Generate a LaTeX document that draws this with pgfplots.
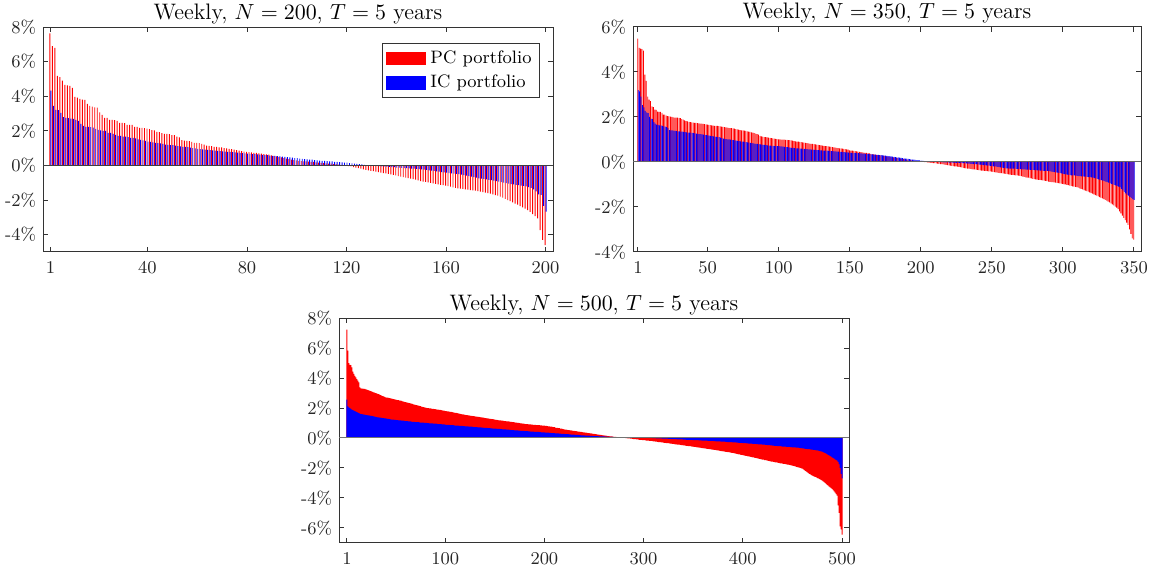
\documentclass[border=0pt]{standalone}
\usepackage{pgfplots}
\usepackage{pgfplotstable}
\pgfplotsset{compat=1.18}

% ---------- N = 200 ----------
\pgfplotstableread[row sep=\\]{
y\\
7.63\\ 6.90\\ 6.80\\ 5.17\\ 5.10\\ 4.90\\ 4.65\\ 4.63\\ 4.60\\ 4.48\\
3.96\\ 3.92\\ 3.85\\ 3.80\\ 3.79\\ 3.56\\ 3.44\\ 3.40\\ 3.35\\ 3.34\\
3.06\\ 2.92\\ 2.75\\ 2.75\\ 2.63\\ 2.63\\ 2.62\\ 2.58\\ 2.46\\ 2.46\\
2.45\\ 2.35\\ 2.35\\ 2.34\\ 2.23\\ 2.23\\ 2.17\\ 2.17\\ 2.15\\ 2.13\\
2.10\\ 2.04\\ 2.02\\ 1.94\\ 1.92\\ 1.87\\ 1.83\\ 1.83\\ 1.81\\ 1.75\\
1.75\\ 1.67\\ 1.62\\ 1.46\\ 1.43\\ 1.42\\ 1.40\\ 1.36\\ 1.31\\ 1.30\\
1.29\\ 1.25\\ 1.20\\ 1.14\\ 1.13\\ 1.12\\ 1.08\\ 1.07\\ 1.05\\ 1.04\\
1.00\\ 0.98\\ 0.96\\ 0.94\\ 0.92\\ 0.88\\ 0.86\\ 0.83\\ 0.80\\ 0.79\\
0.77\\ 0.75\\ 0.73\\ 0.72\\ 0.70\\ 0.68\\ 0.66\\ 0.64\\ 0.62\\ 0.58\\
0.55\\ 0.52\\ 0.49\\ 0.46\\ 0.43\\ 0.40\\ 0.37\\ 0.34\\ 0.31\\ 0.29\\
0.27\\ 0.25\\ 0.24\\ 0.23\\ 0.22\\ 0.21\\ 0.20\\ 0.18\\ 0.17\\ 0.15\\
0.14\\ 0.12\\ 0.11\\ 0.10\\ 0.08\\ 0.07\\ 0.05\\ 0.03\\ 0.01\\ -0.01\\
-0.04\\ -0.06\\ -0.09\\ -0.12\\ -0.16\\ -0.19\\ -0.22\\ -0.25\\ -0.28\\ -0.31\\
-0.33\\ -0.36\\ -0.39\\ -0.41\\ -0.44\\ -0.46\\ -0.49\\ -0.52\\ -0.55\\ -0.58\\
-0.61\\ -0.64\\ -0.67\\ -0.70\\ -0.73\\ -0.76\\ -0.79\\ -0.82\\ -0.86\\ -0.90\\
-0.93\\ -0.95\\ -0.98\\ -1.00\\ -1.03\\ -1.06\\ -1.09\\ -1.12\\ -1.14\\ -1.17\\
-1.20\\ -1.23\\ -1.26\\ -1.29\\ -1.32\\ -1.34\\ -1.36\\ -1.38\\ -1.40\\ -1.42\\
-1.44\\ -1.46\\ -1.49\\ -1.51\\ -1.54\\ -1.57\\ -1.60\\ -1.63\\ -1.67\\ -1.71\\
-1.75\\ -1.80\\ -1.86\\ -1.93\\ -2.00\\ -2.06\\ -2.13\\ -2.20\\ -2.27\\ -2.35\\
-2.42\\ -2.50\\ -2.58\\ -2.68\\ -2.81\\ -2.93\\ -3.06\\ -3.73\\ -4.30\\ -4.60\\
}\pcA
\pgfplotstableread[row sep=\\]{
y\\
4.33\\ 3.44\\ 3.21\\ 3.20\\ 3.04\\ 2.79\\ 2.75\\ 2.74\\ 2.71\\ 2.69\\
2.63\\ 2.58\\ 2.40\\ 2.29\\ 2.23\\ 2.23\\ 2.22\\ 2.19\\ 2.12\\ 2.06\\
2.02\\ 2.00\\ 2.00\\ 1.88\\ 1.88\\ 1.83\\ 1.77\\ 1.71\\ 1.71\\ 1.67\\
1.67\\ 1.63\\ 1.60\\ 1.60\\ 1.56\\ 1.50\\ 1.48\\ 1.45\\ 1.42\\ 1.38\\
1.36\\ 1.33\\ 1.31\\ 1.29\\ 1.27\\ 1.24\\ 1.21\\ 1.19\\ 1.18\\ 1.17\\
1.15\\ 1.12\\ 1.10\\ 1.08\\ 1.07\\ 1.06\\ 1.03\\ 1.00\\ 0.98\\ 0.96\\
0.94\\ 0.93\\ 0.92\\ 0.90\\ 0.88\\ 0.87\\ 0.86\\ 0.84\\ 0.83\\ 0.82\\
0.80\\ 0.79\\ 0.78\\ 0.77\\ 0.75\\ 0.74\\ 0.72\\ 0.71\\ 0.70\\ 0.69\\
0.68\\ 0.66\\ 0.65\\ 0.64\\ 0.62\\ 0.61\\ 0.60\\ 0.59\\ 0.57\\ 0.56\\
0.55\\ 0.54\\ 0.52\\ 0.51\\ 0.50\\ 0.48\\ 0.47\\ 0.45\\ 0.43\\ 0.42\\
0.40\\ 0.38\\ 0.36\\ 0.35\\ 0.34\\ 0.33\\ 0.31\\ 0.30\\ 0.28\\ 0.27\\
0.26\\ 0.25\\ 0.24\\ 0.23\\ 0.21\\ 0.20\\ 0.19\\ 0.18\\ 0.17\\ 0.16\\
0.14\\ 0.12\\ 0.10\\ 0.09\\ 0.08\\ 0.06\\ 0.04\\ 0.02\\ 0.01\\ -0.01\\
-0.02\\ -0.03\\ -0.04\\ -0.05\\ -0.06\\ -0.07\\ -0.08\\ -0.09\\ -0.10\\ -0.12\\
-0.13\\ -0.14\\ -0.15\\ -0.16\\ -0.17\\ -0.18\\ -0.19\\ -0.20\\ -0.21\\ -0.22\\
-0.24\\ -0.26\\ -0.28\\ -0.30\\ -0.32\\ -0.34\\ -0.36\\ -0.38\\ -0.40\\ -0.42\\
-0.44\\ -0.46\\ -0.47\\ -0.49\\ -0.50\\ -0.53\\ -0.56\\ -0.59\\ -0.62\\ -0.65\\
-0.68\\ -0.71\\ -0.74\\ -0.76\\ -0.78\\ -0.80\\ -0.83\\ -0.85\\ -0.87\\ -0.90\\
-0.93\\ -0.96\\ -0.99\\ -1.02\\ -1.05\\ -1.08\\ -1.10\\ -1.12\\ -1.14\\ -1.16\\
-1.18\\ -1.21\\ -1.25\\ -1.30\\ -1.38\\ -1.50\\ -1.67\\ -1.70\\ -2.33\\ -2.67\\
}\icA

% ---------- N = 350 ----------
\pgfplotstableread[row sep=\\]{
y\\
5.48\\ 5.07\\ 5.04\\ 5.02\\ 4.95\\ 3.88\\ 3.61\\ 2.90\\ 2.77\\ 2.71\\
2.47\\ 2.44\\ 2.33\\ 2.32\\ 2.24\\ 2.23\\ 2.23\\ 2.18\\ 2.10\\ 2.10\\
2.06\\ 2.04\\ 2.03\\ 2.02\\ 2.00\\ 1.98\\ 1.97\\ 1.97\\ 1.97\\ 1.96\\
1.95\\ 1.91\\ 1.88\\ 1.85\\ 1.82\\ 1.81\\ 1.78\\ 1.77\\ 1.76\\ 1.75\\
1.74\\ 1.74\\ 1.73\\ 1.72\\ 1.71\\ 1.70\\ 1.69\\ 1.68\\ 1.67\\ 1.66\\
1.65\\ 1.64\\ 1.63\\ 1.62\\ 1.61\\ 1.60\\ 1.60\\ 1.59\\ 1.58\\ 1.57\\
1.56\\ 1.55\\ 1.54\\ 1.53\\ 1.52\\ 1.51\\ 1.50\\ 1.49\\ 1.48\\ 1.46\\
1.45\\ 1.44\\ 1.42\\ 1.41\\ 1.40\\ 1.39\\ 1.38\\ 1.36\\ 1.35\\ 1.34\\
1.32\\ 1.30\\ 1.28\\ 1.26\\ 1.24\\ 1.22\\ 1.16\\ 1.14\\ 1.13\\ 1.11\\
1.10\\ 1.09\\ 1.08\\ 1.07\\ 1.06\\ 1.05\\ 1.04\\ 1.03\\ 1.02\\ 1.01\\
1.00\\ 0.99\\ 0.99\\ 0.99\\ 0.98\\ 0.98\\ 0.97\\ 0.97\\ 0.96\\ 0.95\\
0.93\\ 0.92\\ 0.91\\ 0.90\\ 0.89\\ 0.88\\ 0.87\\ 0.86\\ 0.85\\ 0.84\\
0.83\\ 0.82\\ 0.81\\ 0.80\\ 0.79\\ 0.78\\ 0.77\\ 0.76\\ 0.75\\ 0.74\\
0.73\\ 0.72\\ 0.71\\ 0.70\\ 0.69\\ 0.68\\ 0.67\\ 0.66\\ 0.65\\ 0.64\\
0.63\\ 0.62\\ 0.61\\ 0.60\\ 0.59\\ 0.58\\ 0.57\\ 0.56\\ 0.55\\ 0.52\\
0.51\\ 0.50\\ 0.49\\ 0.48\\ 0.47\\ 0.46\\ 0.45\\ 0.44\\ 0.43\\ 0.42\\
0.41\\ 0.40\\ 0.39\\ 0.38\\ 0.36\\ 0.35\\ 0.34\\ 0.33\\ 0.32\\ 0.31\\
0.30\\ 0.29\\ 0.28\\ 0.27\\ 0.26\\ 0.25\\ 0.24\\ 0.23\\ 0.22\\ 0.21\\
0.20\\ 0.19\\ 0.18\\ 0.17\\ 0.16\\ 0.15\\ 0.14\\ 0.13\\ 0.12\\ 0.11\\
0.10\\ 0.09\\ 0.08\\ 0.07\\ 0.06\\ 0.05\\ 0.05\\ 0.04\\ 0.03\\ 0.02\\
0.01\\ 0.00\\ -0.01\\ -0.01\\ -0.02\\ -0.03\\ -0.03\\ -0.04\\ -0.05\\ -0.05\\
-0.06\\ -0.07\\ -0.08\\ -0.09\\ -0.10\\ -0.11\\ -0.12\\ -0.13\\ -0.14\\ -0.15\\
-0.16\\ -0.17\\ -0.18\\ -0.19\\ -0.20\\ -0.21\\ -0.22\\ -0.23\\ -0.24\\ -0.26\\
-0.27\\ -0.28\\ -0.29\\ -0.30\\ -0.31\\ -0.32\\ -0.33\\ -0.33\\ -0.34\\ -0.35\\
-0.36\\ -0.37\\ -0.38\\ -0.38\\ -0.39\\ -0.40\\ -0.41\\ -0.42\\ -0.42\\ -0.43\\
-0.44\\ -0.45\\ -0.46\\ -0.47\\ -0.48\\ -0.49\\ -0.50\\ -0.51\\ -0.52\\ -0.53\\
-0.54\\ -0.55\\ -0.56\\ -0.57\\ -0.57\\ -0.58\\ -0.59\\ -0.60\\ -0.61\\ -0.62\\
-0.63\\ -0.65\\ -0.66\\ -0.68\\ -0.69\\ -0.70\\ -0.72\\ -0.73\\ -0.75\\ -0.76\\
-0.77\\ -0.78\\ -0.79\\ -0.80\\ -0.81\\ -0.82\\ -0.83\\ -0.84\\ -0.85\\ -0.87\\
-0.88\\ -0.89\\ -0.90\\ -0.91\\ -0.92\\ -0.93\\ -0.94\\ -0.95\\ -0.96\\ -0.97\\
-0.99\\ -1.00\\ -1.02\\ -1.03\\ -1.05\\ -1.06\\ -1.08\\ -1.09\\ -1.11\\ -1.12\\
-1.14\\ -1.17\\ -1.19\\ -1.22\\ -1.25\\ -1.27\\ -1.30\\ -1.32\\ -1.35\\ -1.38\\
-1.41\\ -1.44\\ -1.47\\ -1.50\\ -1.53\\ -1.56\\ -1.59\\ -1.62\\ -1.65\\ -1.68\\
-1.72\\ -1.76\\ -1.80\\ -1.84\\ -1.88\\ -1.93\\ -1.98\\ -2.03\\ -2.09\\ -2.19\\
-2.28\\ -2.38\\ -2.48\\ -2.58\\ -2.70\\ -2.80\\ -3.00\\ -3.20\\ -3.40\\ -3.45\\
}\pcB
\pgfplotstableread[row sep=\\]{
y\\
3.19\\ 3.14\\ 2.90\\ 2.53\\ 2.43\\ 2.27\\ 2.20\\ 2.17\\ 2.00\\ 1.93\\
1.90\\ 1.77\\ 1.71\\ 1.66\\ 1.65\\ 1.63\\ 1.63\\ 1.60\\ 1.58\\ 1.57\\
1.55\\ 1.50\\ 1.42\\ 1.41\\ 1.40\\ 1.39\\ 1.38\\ 1.37\\ 1.36\\ 1.36\\
1.35\\ 1.35\\ 1.34\\ 1.33\\ 1.32\\ 1.31\\ 1.30\\ 1.30\\ 1.29\\ 1.28\\
1.27\\ 1.26\\ 1.25\\ 1.24\\ 1.24\\ 1.23\\ 1.22\\ 1.20\\ 1.19\\ 1.18\\
1.17\\ 1.16\\ 1.15\\ 1.14\\ 1.13\\ 1.12\\ 1.11\\ 1.10\\ 1.08\\ 1.06\\
1.04\\ 1.03\\ 1.02\\ 1.01\\ 1.00\\ 0.99\\ 0.98\\ 0.97\\ 0.96\\ 0.95\\
0.94\\ 0.93\\ 0.92\\ 0.91\\ 0.90\\ 0.89\\ 0.88\\ 0.87\\ 0.86\\ 0.85\\
0.84\\ 0.83\\ 0.82\\ 0.81\\ 0.80\\ 0.79\\ 0.78\\ 0.77\\ 0.76\\ 0.76\\
0.75\\ 0.74\\ 0.73\\ 0.73\\ 0.72\\ 0.72\\ 0.71\\ 0.71\\ 0.70\\ 0.70\\
0.69\\ 0.69\\ 0.68\\ 0.67\\ 0.66\\ 0.66\\ 0.65\\ 0.64\\ 0.63\\ 0.63\\
0.62\\ 0.61\\ 0.60\\ 0.60\\ 0.59\\ 0.59\\ 0.58\\ 0.58\\ 0.57\\ 0.57\\
0.56\\ 0.56\\ 0.55\\ 0.55\\ 0.54\\ 0.54\\ 0.53\\ 0.53\\ 0.52\\ 0.52\\
0.51\\ 0.51\\ 0.50\\ 0.50\\ 0.49\\ 0.49\\ 0.48\\ 0.48\\ 0.47\\ 0.47\\
0.46\\ 0.46\\ 0.45\\ 0.45\\ 0.44\\ 0.44\\ 0.43\\ 0.43\\ 0.42\\ 0.42\\
0.41\\ 0.41\\ 0.40\\ 0.40\\ 0.39\\ 0.39\\ 0.38\\ 0.38\\ 0.37\\ 0.37\\
0.36\\ 0.36\\ 0.35\\ 0.35\\ 0.34\\ 0.34\\ 0.33\\ 0.33\\ 0.32\\ 0.32\\
0.31\\ 0.30\\ 0.29\\ 0.29\\ 0.28\\ 0.27\\ 0.26\\ 0.26\\ 0.25\\ 0.24\\
0.23\\ 0.22\\ 0.21\\ 0.20\\ 0.19\\ 0.18\\ 0.17\\ 0.16\\ 0.15\\ 0.15\\
0.14\\ 0.13\\ 0.12\\ 0.11\\ 0.10\\ 0.09\\ 0.08\\ 0.08\\ 0.07\\ 0.06\\
0.05\\ 0.05\\ 0.04\\ 0.04\\ 0.03\\ 0.03\\ 0.02\\ 0.02\\ 0.01\\ 0.01\\
0.00\\ 0.00\\ -0.01\\ -0.01\\ -0.01\\ -0.02\\ -0.02\\ -0.02\\ -0.02\\ -0.03\\
-0.03\\ -0.03\\ -0.03\\ -0.04\\ -0.04\\ -0.04\\ -0.04\\ -0.05\\ -0.05\\ -0.05\\
-0.06\\ -0.06\\ -0.07\\ -0.07\\ -0.08\\ -0.08\\ -0.09\\ -0.09\\ -0.10\\ -0.11\\
-0.12\\ -0.12\\ -0.13\\ -0.14\\ -0.14\\ -0.15\\ -0.16\\ -0.16\\ -0.17\\ -0.18\\
-0.19\\ -0.20\\ -0.21\\ -0.22\\ -0.23\\ -0.24\\ -0.25\\ -0.26\\ -0.27\\ -0.28\\
-0.28\\ -0.29\\ -0.29\\ -0.30\\ -0.30\\ -0.30\\ -0.31\\ -0.31\\ -0.32\\ -0.32\\
-0.33\\ -0.33\\ -0.33\\ -0.34\\ -0.34\\ -0.34\\ -0.35\\ -0.35\\ -0.35\\ -0.36\\
-0.36\\ -0.37\\ -0.37\\ -0.38\\ -0.38\\ -0.39\\ -0.39\\ -0.40\\ -0.40\\ -0.41\\
-0.42\\ -0.43\\ -0.44\\ -0.45\\ -0.46\\ -0.47\\ -0.48\\ -0.50\\ -0.51\\ -0.53\\
-0.54\\ -0.55\\ -0.56\\ -0.57\\ -0.58\\ -0.59\\ -0.60\\ -0.60\\ -0.61\\ -0.62\\
-0.63\\ -0.63\\ -0.64\\ -0.64\\ -0.65\\ -0.65\\ -0.66\\ -0.67\\ -0.67\\ -0.68\\
-0.70\\ -0.72\\ -0.73\\ -0.75\\ -0.77\\ -0.79\\ -0.81\\ -0.83\\ -0.85\\ -0.87\\
-0.89\\ -0.92\\ -0.94\\ -0.97\\ -0.99\\ -1.02\\ -1.04\\ -1.07\\ -1.09\\ -1.12\\
-1.19\\ -1.26\\ -1.33\\ -1.40\\ -1.46\\ -1.50\\ -1.55\\ -1.60\\ -1.65\\ -1.68\\
}\icB

% ---------- N = 500 ----------
\pgfplotstableread[row sep=\\]{
y\\
7.22\\ 5.82\\ 5.00\\ 4.88\\ 4.86\\ 4.71\\ 4.42\\ 4.27\\ 4.15\\ 4.04\\
3.93\\ 3.82\\ 3.71\\ 3.38\\ 3.31\\ 3.30\\ 3.29\\ 3.28\\ 3.27\\ 3.25\\
3.22\\ 3.20\\ 3.18\\ 3.15\\ 3.12\\ 3.10\\ 3.07\\ 3.05\\ 3.02\\ 3.00\\
2.97\\ 2.94\\ 2.92\\ 2.89\\ 2.86\\ 2.83\\ 2.80\\ 2.77\\ 2.74\\ 2.71\\
2.70\\ 2.69\\ 2.67\\ 2.66\\ 2.64\\ 2.62\\ 2.61\\ 2.59\\ 2.58\\ 2.56\\
2.55\\ 2.53\\ 2.52\\ 2.50\\ 2.49\\ 2.47\\ 2.45\\ 2.43\\ 2.41\\ 2.39\\
2.38\\ 2.36\\ 2.35\\ 2.33\\ 2.31\\ 2.29\\ 2.27\\ 2.25\\ 2.23\\ 2.21\\
2.19\\ 2.17\\ 2.16\\ 2.14\\ 2.12\\ 2.10\\ 2.08\\ 2.06\\ 2.04\\ 2.02\\
2.01\\ 2.00\\ 1.99\\ 1.98\\ 1.97\\ 1.96\\ 1.95\\ 1.94\\ 1.93\\ 1.92\\
1.91\\ 1.90\\ 1.89\\ 1.88\\ 1.87\\ 1.86\\ 1.85\\ 1.83\\ 1.82\\ 1.80\\
1.79\\ 1.78\\ 1.77\\ 1.76\\ 1.75\\ 1.74\\ 1.72\\ 1.71\\ 1.69\\ 1.68\\
1.67\\ 1.66\\ 1.64\\ 1.63\\ 1.61\\ 1.60\\ 1.58\\ 1.57\\ 1.55\\ 1.54\\
1.53\\ 1.52\\ 1.51\\ 1.50\\ 1.49\\ 1.48\\ 1.47\\ 1.46\\ 1.45\\ 1.44\\
1.43\\ 1.42\\ 1.41\\ 1.40\\ 1.39\\ 1.38\\ 1.37\\ 1.36\\ 1.35\\ 1.33\\
1.32\\ 1.31\\ 1.30\\ 1.29\\ 1.28\\ 1.27\\ 1.26\\ 1.25\\ 1.24\\ 1.22\\
1.21\\ 1.20\\ 1.19\\ 1.18\\ 1.17\\ 1.17\\ 1.16\\ 1.15\\ 1.14\\ 1.13\\
1.12\\ 1.11\\ 1.10\\ 1.10\\ 1.09\\ 1.08\\ 1.07\\ 1.06\\ 1.05\\ 1.04\\
1.03\\ 1.02\\ 1.01\\ 1.00\\ 0.99\\ 0.98\\ 0.97\\ 0.96\\ 0.95\\ 0.94\\
0.93\\ 0.93\\ 0.92\\ 0.91\\ 0.91\\ 0.90\\ 0.89\\ 0.89\\ 0.88\\ 0.87\\
0.87\\ 0.86\\ 0.86\\ 0.85\\ 0.85\\ 0.84\\ 0.84\\ 0.83\\ 0.83\\ 0.82\\
0.81\\ 0.80\\ 0.79\\ 0.78\\ 0.77\\ 0.76\\ 0.75\\ 0.74\\ 0.73\\ 0.72\\
0.69\\ 0.68\\ 0.67\\ 0.66\\ 0.65\\ 0.63\\ 0.62\\ 0.60\\ 0.59\\ 0.57\\
0.56\\ 0.55\\ 0.54\\ 0.53\\ 0.52\\ 0.51\\ 0.50\\ 0.49\\ 0.48\\ 0.47\\
0.46\\ 0.45\\ 0.44\\ 0.43\\ 0.42\\ 0.41\\ 0.40\\ 0.39\\ 0.38\\ 0.37\\
0.36\\ 0.35\\ 0.34\\ 0.33\\ 0.32\\ 0.31\\ 0.30\\ 0.29\\ 0.28\\ 0.27\\
0.26\\ 0.25\\ 0.24\\ 0.23\\ 0.22\\ 0.21\\ 0.20\\ 0.19\\ 0.18\\ 0.17\\
0.16\\ 0.15\\ 0.14\\ 0.13\\ 0.12\\ 0.11\\ 0.10\\ 0.10\\ 0.09\\ 0.08\\
0.07\\ 0.07\\ 0.06\\ 0.05\\ 0.05\\ 0.04\\ 0.03\\ 0.03\\ 0.02\\ 0.01\\
0.00\\ -0.01\\ -0.01\\ -0.02\\ -0.03\\ -0.03\\ -0.04\\ -0.05\\ -0.06\\ -0.07\\
-0.08\\ -0.08\\ -0.09\\ -0.10\\ -0.11\\ -0.12\\ -0.12\\ -0.13\\ -0.14\\ -0.15\\
-0.15\\ -0.16\\ -0.17\\ -0.17\\ -0.18\\ -0.19\\ -0.19\\ -0.20\\ -0.21\\ -0.22\\
-0.23\\ -0.24\\ -0.25\\ -0.26\\ -0.27\\ -0.27\\ -0.28\\ -0.29\\ -0.30\\ -0.31\\
-0.32\\ -0.33\\ -0.34\\ -0.35\\ -0.35\\ -0.36\\ -0.37\\ -0.38\\ -0.39\\ -0.40\\
-0.41\\ -0.42\\ -0.43\\ -0.44\\ -0.45\\ -0.45\\ -0.46\\ -0.47\\ -0.48\\ -0.49\\
-0.50\\ -0.51\\ -0.52\\ -0.53\\ -0.54\\ -0.54\\ -0.55\\ -0.56\\ -0.57\\ -0.58\\
-0.59\\ -0.60\\ -0.61\\ -0.62\\ -0.63\\ -0.64\\ -0.65\\ -0.66\\ -0.67\\ -0.68\\
-0.69\\ -0.70\\ -0.71\\ -0.72\\ -0.73\\ -0.74\\ -0.75\\ -0.76\\ -0.77\\ -0.78\\
-0.79\\ -0.80\\ -0.81\\ -0.82\\ -0.83\\ -0.85\\ -0.86\\ -0.87\\ -0.88\\ -0.89\\
-0.90\\ -0.91\\ -0.92\\ -0.93\\ -0.94\\ -0.95\\ -0.96\\ -0.97\\ -0.99\\ -1.00\\
-1.01\\ -1.03\\ -1.04\\ -1.06\\ -1.07\\ -1.09\\ -1.10\\ -1.12\\ -1.13\\ -1.15\\
-1.16\\ -1.17\\ -1.19\\ -1.20\\ -1.22\\ -1.23\\ -1.25\\ -1.26\\ -1.28\\ -1.29\\
-1.30\\ -1.32\\ -1.33\\ -1.35\\ -1.36\\ -1.38\\ -1.39\\ -1.41\\ -1.42\\ -1.44\\
-1.45\\ -1.47\\ -1.48\\ -1.50\\ -1.51\\ -1.53\\ -1.54\\ -1.56\\ -1.57\\ -1.58\\
-1.59\\ -1.61\\ -1.62\\ -1.63\\ -1.65\\ -1.66\\ -1.67\\ -1.69\\ -1.70\\ -1.71\\
-1.72\\ -1.73\\ -1.75\\ -1.76\\ -1.77\\ -1.78\\ -1.79\\ -1.81\\ -1.82\\ -1.84\\
-1.86\\ -1.88\\ -1.90\\ -1.92\\ -1.94\\ -1.96\\ -1.98\\ -2.00\\ -2.02\\ -2.05\\
-2.10\\ -2.15\\ -2.20\\ -2.25\\ -2.30\\ -2.35\\ -2.39\\ -2.43\\ -2.47\\ -2.51\\
-2.54\\ -2.57\\ -2.60\\ -2.63\\ -2.67\\ -2.70\\ -2.73\\ -2.76\\ -2.80\\ -2.84\\
-2.89\\ -2.94\\ -3.00\\ -3.06\\ -3.12\\ -3.18\\ -3.24\\ -3.29\\ -3.34\\ -3.40\\
-3.48\\ -3.56\\ -3.64\\ -3.74\\ -3.84\\ -4.50\\ -5.00\\ -5.90\\ -6.10\\ -6.45\\
}\pcC
\pgfplotstableread[row sep=\\]{
y\\
2.56\\ 2.11\\ 2.04\\ 2.00\\ 1.94\\ 1.89\\ 1.86\\ 1.83\\ 1.80\\ 1.76\\
1.73\\ 1.70\\ 1.66\\ 1.63\\ 1.60\\ 1.59\\ 1.58\\ 1.56\\ 1.55\\ 1.53\\
1.52\\ 1.51\\ 1.50\\ 1.49\\ 1.48\\ 1.47\\ 1.45\\ 1.44\\ 1.42\\ 1.40\\
1.39\\ 1.38\\ 1.37\\ 1.36\\ 1.35\\ 1.34\\ 1.33\\ 1.32\\ 1.31\\ 1.30\\
1.29\\ 1.28\\ 1.27\\ 1.25\\ 1.24\\ 1.23\\ 1.22\\ 1.22\\ 1.21\\ 1.20\\
1.19\\ 1.19\\ 1.18\\ 1.17\\ 1.17\\ 1.16\\ 1.15\\ 1.15\\ 1.14\\ 1.13\\
1.12\\ 1.12\\ 1.11\\ 1.10\\ 1.10\\ 1.09\\ 1.08\\ 1.08\\ 1.07\\ 1.06\\
1.06\\ 1.05\\ 1.05\\ 1.04\\ 1.03\\ 1.03\\ 1.02\\ 1.02\\ 1.01\\ 1.00\\
1.00\\ 0.99\\ 0.99\\ 0.98\\ 0.98\\ 0.97\\ 0.97\\ 0.96\\ 0.96\\ 0.95\\
0.95\\ 0.94\\ 0.93\\ 0.93\\ 0.92\\ 0.92\\ 0.91\\ 0.90\\ 0.90\\ 0.89\\
0.88\\ 0.88\\ 0.87\\ 0.87\\ 0.86\\ 0.86\\ 0.85\\ 0.85\\ 0.84\\ 0.83\\
0.83\\ 0.82\\ 0.82\\ 0.81\\ 0.81\\ 0.80\\ 0.80\\ 0.79\\ 0.79\\ 0.78\\
0.78\\ 0.77\\ 0.77\\ 0.76\\ 0.76\\ 0.75\\ 0.75\\ 0.74\\ 0.73\\ 0.73\\
0.72\\ 0.72\\ 0.71\\ 0.71\\ 0.70\\ 0.70\\ 0.69\\ 0.69\\ 0.68\\ 0.68\\
0.67\\ 0.67\\ 0.66\\ 0.66\\ 0.65\\ 0.64\\ 0.64\\ 0.63\\ 0.63\\ 0.62\\
0.62\\ 0.61\\ 0.61\\ 0.60\\ 0.60\\ 0.59\\ 0.59\\ 0.58\\ 0.58\\ 0.57\\
0.57\\ 0.56\\ 0.56\\ 0.55\\ 0.54\\ 0.54\\ 0.53\\ 0.52\\ 0.52\\ 0.51\\
0.51\\ 0.50\\ 0.50\\ 0.49\\ 0.49\\ 0.48\\ 0.48\\ 0.47\\ 0.47\\ 0.46\\
0.46\\ 0.45\\ 0.45\\ 0.44\\ 0.44\\ 0.43\\ 0.43\\ 0.42\\ 0.42\\ 0.41\\
0.41\\ 0.40\\ 0.40\\ 0.40\\ 0.39\\ 0.39\\ 0.38\\ 0.38\\ 0.37\\ 0.37\\
0.36\\ 0.36\\ 0.35\\ 0.35\\ 0.34\\ 0.34\\ 0.33\\ 0.33\\ 0.32\\ 0.32\\
0.31\\ 0.31\\ 0.30\\ 0.30\\ 0.29\\ 0.29\\ 0.28\\ 0.28\\ 0.27\\ 0.27\\
0.26\\ 0.26\\ 0.25\\ 0.25\\ 0.24\\ 0.24\\ 0.23\\ 0.23\\ 0.22\\ 0.22\\
0.21\\ 0.21\\ 0.20\\ 0.20\\ 0.19\\ 0.19\\ 0.18\\ 0.18\\ 0.17\\ 0.17\\
0.16\\ 0.16\\ 0.15\\ 0.15\\ 0.15\\ 0.14\\ 0.14\\ 0.14\\ 0.13\\ 0.13\\
0.13\\ 0.12\\ 0.12\\ 0.12\\ 0.11\\ 0.11\\ 0.11\\ 0.10\\ 0.10\\ 0.10\\
0.09\\ 0.09\\ 0.09\\ 0.08\\ 0.08\\ 0.08\\ 0.07\\ 0.07\\ 0.07\\ 0.06\\
0.06\\ 0.06\\ 0.05\\ 0.05\\ 0.05\\ 0.05\\ 0.04\\ 0.04\\ 0.04\\ 0.04\\
0.03\\ 0.03\\ 0.03\\ 0.03\\ 0.03\\ 0.02\\ 0.02\\ 0.02\\ 0.02\\ 0.02\\
0.02\\ 0.02\\ 0.01\\ 0.01\\ 0.01\\ 0.01\\ 0.01\\ 0.01\\ 0.01\\ 0.01\\
0.00\\ 0.00\\ 0.00\\ 0.00\\ 0.00\\ 0.00\\ 0.00\\ 0.00\\ -0.01\\ -0.01\\
-0.01\\ -0.01\\ -0.02\\ -0.02\\ -0.02\\ -0.03\\ -0.03\\ -0.03\\ -0.04\\ -0.04\\
-0.04\\ -0.05\\ -0.05\\ -0.05\\ -0.06\\ -0.06\\ -0.06\\ -0.07\\ -0.07\\ -0.07\\
-0.08\\ -0.08\\ -0.08\\ -0.09\\ -0.09\\ -0.09\\ -0.10\\ -0.10\\ -0.10\\ -0.11\\
-0.11\\ -0.11\\ -0.12\\ -0.12\\ -0.12\\ -0.13\\ -0.13\\ -0.13\\ -0.13\\ -0.14\\
-0.14\\ -0.14\\ -0.15\\ -0.15\\ -0.15\\ -0.16\\ -0.16\\ -0.16\\ -0.17\\ -0.17\\
-0.17\\ -0.18\\ -0.18\\ -0.18\\ -0.19\\ -0.19\\ -0.19\\ -0.20\\ -0.20\\ -0.20\\
-0.21\\ -0.21\\ -0.22\\ -0.22\\ -0.22\\ -0.23\\ -0.23\\ -0.24\\ -0.24\\ -0.25\\
-0.25\\ -0.25\\ -0.26\\ -0.26\\ -0.27\\ -0.27\\ -0.28\\ -0.28\\ -0.28\\ -0.29\\
-0.29\\ -0.30\\ -0.30\\ -0.31\\ -0.31\\ -0.32\\ -0.32\\ -0.33\\ -0.33\\ -0.34\\
-0.34\\ -0.35\\ -0.35\\ -0.36\\ -0.36\\ -0.37\\ -0.37\\ -0.38\\ -0.38\\ -0.39\\
-0.39\\ -0.40\\ -0.40\\ -0.41\\ -0.41\\ -0.42\\ -0.42\\ -0.43\\ -0.43\\ -0.44\\
-0.45\\ -0.45\\ -0.46\\ -0.46\\ -0.47\\ -0.48\\ -0.48\\ -0.49\\ -0.50\\ -0.51\\
-0.51\\ -0.52\\ -0.52\\ -0.53\\ -0.54\\ -0.54\\ -0.55\\ -0.55\\ -0.56\\ -0.57\\
-0.57\\ -0.58\\ -0.58\\ -0.59\\ -0.59\\ -0.60\\ -0.60\\ -0.61\\ -0.61\\ -0.62\\
-0.62\\ -0.63\\ -0.63\\ -0.64\\ -0.64\\ -0.65\\ -0.66\\ -0.67\\ -0.68\\ -0.69\\
-0.70\\ -0.71\\ -0.72\\ -0.73\\ -0.74\\ -0.75\\ -0.75\\ -0.76\\ -0.77\\ -0.78\\
-0.79\\ -0.80\\ -0.81\\ -0.82\\ -0.83\\ -0.84\\ -0.86\\ -0.87\\ -0.89\\ -0.91\\
-0.94\\ -0.97\\ -1.00\\ -1.04\\ -1.08\\ -1.12\\ -1.16\\ -1.20\\ -1.24\\ -1.29\\
-1.33\\ -1.38\\ -1.42\\ -1.46\\ -1.51\\ -1.60\\ -1.75\\ -2.00\\ -2.40\\ -2.70\\
}\icC

\pgfplotsset{
  panel/.style={
    scale only axis, anchor=south west, height=112.5pt,
    tick align=inside, major tick length=2.5pt,
    axis line style={black!80, line width=0.5pt},
    every tick/.style={black!80, line width=0.5pt},
    tick label style={font=\fontsize{9}{11}\selectfont, text=black!85},
    xticklabel style={yshift=-1.5pt},
    every axis title/.style={at={(0.5,1)}, anchor=base, yshift=4pt, inner sep=0pt,
      font=\fontsize{11.2}{13.5}\selectfont},
  },
  pcbar/.style={ybar, fill=red, draw=none,
    legend image code/.code={\fill[red] (0pt,-3.3pt) rectangle (20pt,3.3pt);}},
  icbar/.style={ybar, fill=blue, draw=none,
    legend image code/.code={\fill[blue] (0pt,-3.3pt) rectangle (20pt,3.3pt);}},
}

\begin{document}
\begin{tikzpicture}
\useasboundingbox (0pt,0pt) rectangle (577.5pt,286pt);

% ---- Panel 1 ----
\begin{axis}[panel, at={(21.5pt,160pt)}, width=255pt,
  xmin=-2, xmax=203, ymin=-5, ymax=8,
  xtick={1,40,80,120,160,200},
  ytick={-4,-2,0,2,4,6,8},
  yticklabels={-4\%,-2\%,0\%,2\%,4\%,6\%,8\%},
  title={Weekly, $N=200$, $T=5$ years},
  legend cell align=left,
  legend style={font=\fontsize{9}{11}\selectfont, draw=black!80, line width=0.5pt,
    at={(1,1)}, anchor=north east, xshift=-6.5pt, yshift=-8pt,
    inner xsep=2pt, inner ysep=1.5pt, row sep=0.5pt},
]
\addplot[pcbar, bar width=0.38, bar shift=-0.2] table[x expr=\coordindex+1, y=y] {\pcA};
\addlegendentry{PC portfolio}
\addplot[icbar, bar width=0.38, bar shift=0.2] table[x expr=\coordindex+1, y=y] {\icA};
\addlegendentry{IC portfolio}
\draw[black!75, line width=0.5pt] (axis cs:-2,0) -- (axis cs:203,0);
\end{axis}

% ---- Panel 2 ----
\begin{axis}[panel, at={(316.5pt,160pt)}, width=254pt,
  xmin=-2.5, xmax=355, ymin=-4, ymax=6,
  xtick={1,50,100,150,200,250,300,350},
  ytick={-4,-2,0,2,4,6},
  yticklabels={-4\%,-2\%,0\%,2\%,4\%,6\%},
  title={Weekly, $N=350$, $T=5$ years},
]
\addplot[pcbar, bar width=0.6, bar shift=-0.15] table[x expr=\coordindex+1, y=y] {\pcB};
\addplot[icbar, bar width=0.6, bar shift=0.15] table[x expr=\coordindex+1, y=y] {\icB};
\draw[black!60, line width=0.5pt] (axis cs:-2.5,0) -- (axis cs:355,0);
\end{axis}

% ---- Panel 3 ----
\begin{axis}[panel, at={(169.5pt,14.5pt)}, width=255pt,
  xmin=-7, xmax=507, ymin=-7, ymax=8,
  xtick={1,100,200,300,400,500},
  ytick={-6,-4,-2,0,2,4,6,8},
  yticklabels={-6\%,-4\%,-2\%,0\%,2\%,4\%,6\%,8\%},
  title={Weekly, $N=500$, $T=5$ years},
]
\addplot[pcbar, bar width=1.0, bar shift=0] table[x expr=\coordindex+1, y=y] {\pcC};
\addplot[icbar, bar width=1.0, bar shift=0] table[x expr=\coordindex+1, y=y] {\icC};
\draw[black!55, line width=0.5pt] (axis cs:-7,0) -- (axis cs:507,0);
\end{axis}
\end{tikzpicture}
\end{document}
